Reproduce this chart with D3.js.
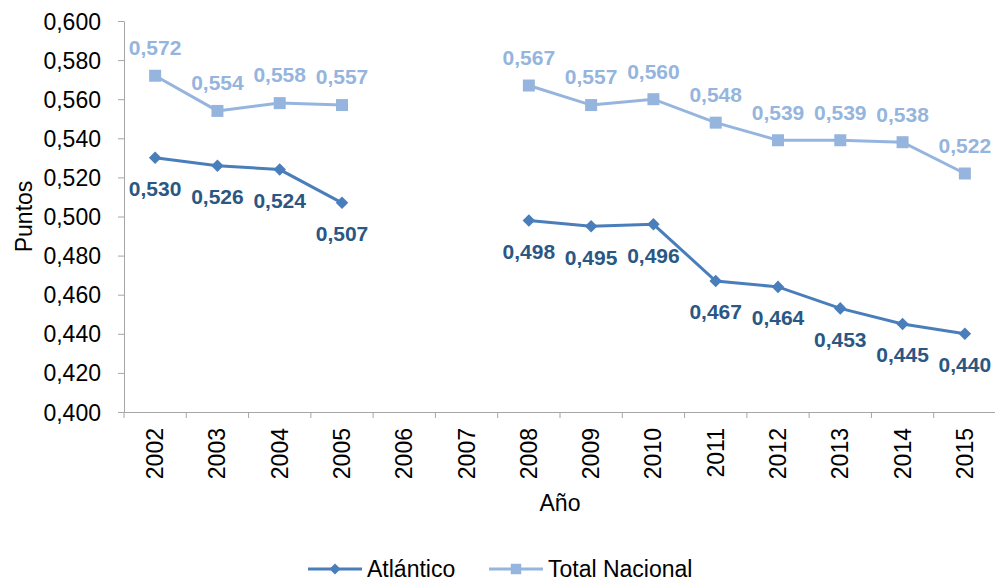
<!DOCTYPE html>
<html>
<head>
<meta charset="utf-8">
<script src="https://cdn.jsdelivr.net/npm/d3@7"></script>
<style>
  body { margin: 0; background: #fff; }
  svg { font-family: "Liberation Sans", Arial, sans-serif; }
</style>
</head>
<body>
<svg id="chart" width="995" height="581"></svg>
<script>
const years = ["2002","2003","2004","2005","2006","2007","2008","2009","2010","2011","2012","2013","2014","2015"];
const atlantico = [0.530, 0.526, 0.524, 0.507, null, null, 0.498, 0.495, 0.496, 0.467, 0.464, 0.453, 0.445, 0.440];
const nacional = [0.572, 0.554, 0.558, 0.557, null, null, 0.567, 0.557, 0.560, 0.548, 0.539, 0.539, 0.538, 0.522];
const yTicks = d3.range(0.400, 0.6001, 0.020);

const fmt = v => d3.format(".3f")(v).replace(".", ",");

const svg = d3.select("#chart");
const plotLeft = 124, plotRight = 996, plotTop = 21, plotBottom = 412;

const x = d3.scaleBand().domain(years).range([plotLeft, plotRight]);
const y = d3.scaleLinear().domain([0.4, 0.6]).range([plotBottom, plotTop]);

// ejes
const yAxis = svg.append("g")
  .attr("transform", `translate(${plotLeft},0)`)
  .call(d3.axisLeft(y).tickValues(yTicks).tickFormat(fmt).tickSize(6).tickSizeOuter(0));
yAxis.select(".domain").attr("stroke", "#a6a6a6");
yAxis.selectAll(".tick line").attr("stroke", "#a6a6a6");
yAxis.selectAll("text").attr("font-size", 23).attr("fill", "#000").attr("x", -23).attr("dy", "0.35em");

const xAxis = svg.append("g")
  .attr("transform", `translate(0,${plotBottom})`)
  .call(d3.axisBottom(x).tickSize(0).tickSizeOuter(0));
xAxis.select(".domain").attr("stroke", "#a6a6a6");
xAxis.selectAll(".tick text")
  .attr("font-size", 23).attr("fill", "#000")
  .attr("transform", "rotate(-90)")
  .attr("text-anchor", "end")
  .attr("x", -16).attr("y", 0).attr("dy", "0.35em");
// marcas entre categorías
svg.append("g").selectAll("line")
  .data(years)
  .join("line")
  .attr("x1", d => x(d)).attr("x2", d => x(d))
  .attr("y1", plotBottom).attr("y2", plotBottom + 6)
  .attr("stroke", "#a6a6a6");

// títulos
svg.append("text")
  .attr("transform", `translate(32,${(plotTop + plotBottom) / 2}) rotate(-90)`)
  .attr("text-anchor", "middle").attr("font-size", 23).text("Puntos");
svg.append("text")
  .attr("x", 560).attr("y", 511)
  .attr("text-anchor", "middle").attr("font-size", 23).text("Año");

const series = [
  { name: "Atlántico", values: atlantico, color: "#4a7ebb", label: "#2a5783", marker: "diamond", dy: 31 },
  { name: "Total Nacional", values: nacional, color: "#95b5de", label: "#95b5de", marker: "square", dy: -28 }
];

const cx = i => x(years[i]) + x.bandwidth() / 2;

const line = d3.line()
  .defined(d => d.v != null)
  .x(d => cx(d.i))
  .y(d => y(d.v));

series.forEach(s => {
  const pts = s.values.map((v, i) => ({ v, i }));
  const g = svg.append("g");
  g.append("path")
    .datum(pts)
    .attr("d", line)
    .attr("fill", "none")
    .attr("stroke", s.color)
    .attr("stroke-width", 3);
  const sym = s.marker === "diamond"
    ? d3.symbol().type(d3.symbolDiamond2).size(100)
    : d3.symbol().type(d3.symbolSquare).size(144);
  g.selectAll(".m")
    .data(pts.filter(d => d.v != null))
    .join("path")
    .attr("d", sym)
    .attr("transform", d => `translate(${cx(d.i)},${y(d.v)})`)
    .attr("fill", s.color);
  g.selectAll(".l")
    .data(pts.filter(d => d.v != null))
    .join("text")
    .attr("x", d => cx(d.i))
    .attr("y", d => y(d.v) + s.dy)
    .attr("dy", "0.35em")
    .attr("text-anchor", "middle")
    .attr("font-size", 21)
    .attr("font-weight", "bold")
    .attr("fill", s.label)
    .text(d => fmt(d.v));
});

// leyenda
const legend = svg.append("g").attr("transform", "translate(0,569)");
const legendItems = [
  { s: series[0], x: 308 },
  { s: series[1], x: 489 }
];
legendItems.forEach(({ s, x: lx }) => {
  legend.append("line")
    .attr("x1", lx).attr("x2", lx + 54).attr("y1", 0).attr("y2", 0)
    .attr("stroke", s.color).attr("stroke-width", 3);
  const sym = s.marker === "diamond"
    ? d3.symbol().type(d3.symbolDiamond2).size(80)
    : d3.symbol().type(d3.symbolSquare).size(110);
  legend.append("path").attr("d", sym).attr("transform", `translate(${lx + 27},0)`).attr("fill", s.color);
  legend.append("text")
    .attr("x", lx + 59).attr("y", 0).attr("dy", "0.35em")
    .attr("font-size", 23).text(s.name);
});
</script>
</body>
</html>
